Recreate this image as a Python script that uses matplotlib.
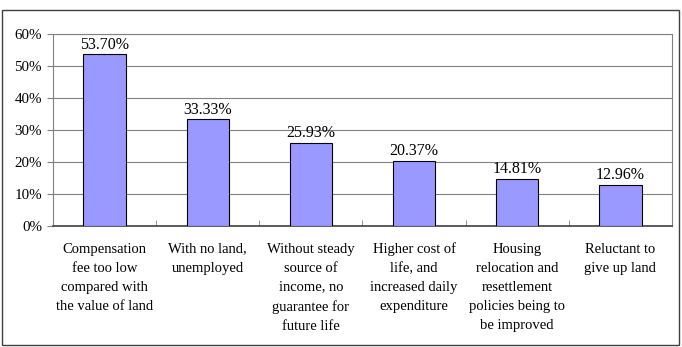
import matplotlib.pyplot as plt
import numpy as np

categories = [
    "Compensation\nfee too low\ncompared with\nthe value of land",
    "With no land,\nunemployed",
    "Without steady\nsource of\nincome, no\nguarantee for\nfuture life",
    "Higher cost of\nlife, and\nincreased daily\nexpenditure",
    "Housing\nrelocation and\nresettlement\npolicies being to\nbe improved",
    "Reluctant to\ngive up land",
]
values = [53.70, 33.33, 25.93, 20.37, 14.81, 12.96]
y_ticks = [0, 10, 20, 30, 40, 50, 60]

plt.rcParams['font.family'] = ['Liberation Serif', 'DejaVu Serif']

fig = plt.figure(figsize=(6.82, 3.47), dpi=100)
ax = fig.add_axes([53 / 682, 1 - 226 / 347, (672 - 53) / 682, (226 - 34) / 347])

x = np.arange(len(values))
ax.bar(x, values, width=0.41, color='#9999FF', edgecolor='#000000', linewidth=0.8, zorder=3)

for xi, v in zip(x, values):
    ax.text(xi, v + 0.5, f"{v:.2f}%", ha='center', va='bottom', fontsize=11.5, zorder=4)

ax.set_xlim(-0.5, len(values) - 0.5)
ax.set_ylim(0, 60)
ax.set_yticks(y_ticks)
ax.set_yticklabels([f"{t}%" for t in y_ticks], fontsize=10.8)
ax.yaxis.grid(True, color='#808080', linewidth=0.8, zorder=0)

# category labels under bars, separators as minor ticks
ax.set_xticks([])
ax.set_xticks(np.arange(len(values) + 1) - 0.5, minor=True)
ax.tick_params(axis='x', which='minor', direction='in', length=4, color='#808080', labelbottom=False)
ax.tick_params(axis='y', length=4, color='#808080', pad=4)
for xi, lab in zip(x, categories):
    ax.text(xi, -5.2, lab, ha='center', va='top', fontsize=10.5, linespacing=1.6)

for side in ['top', 'right', 'left']:
    ax.spines[side].set_color('#808080')
ax.spines['bottom'].set_color('#404040')
ax.spines['bottom'].set_linewidth(1.2)

# outer chart border
fig.patches.append(plt.Rectangle((2 / 682, 2 / 347), 677 / 682, 335 / 347, transform=fig.transFigure,
                                 fill=False, edgecolor='#404040', linewidth=1.0))

fig.savefig('out.png', dpi=100)
